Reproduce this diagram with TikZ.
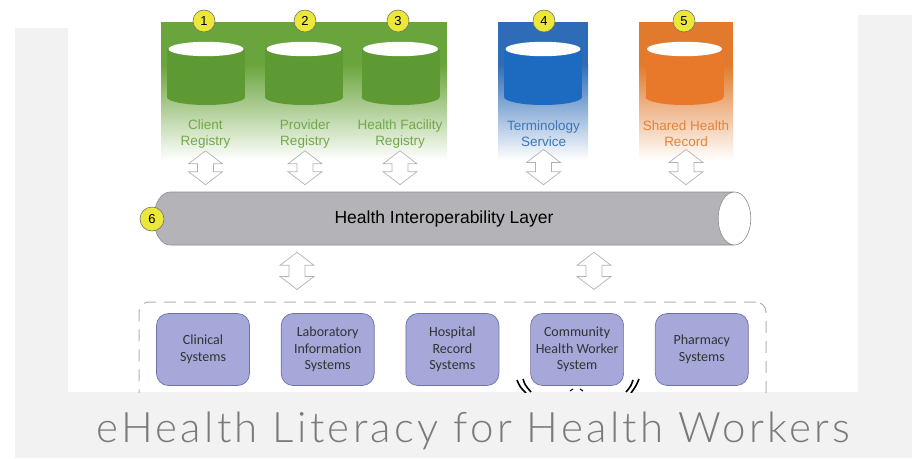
\documentclass[tikz,border=0pt]{standalone}
\usepackage{fontspec}
\setmainfont{Liberation Sans}
\newfontfamily\boxfont{Carlito}
\newfontfamily\titlefont{Lato Light}[LetterSpace=8]
\usepackage{tikz}
\usetikzlibrary{shapes.geometric,calc,positioning}
\usepackage{xcolor}

\definecolor{slidegray}{HTML}{F2F2F2}
\definecolor{regreen}{HTML}{6AA43C}
\definecolor{cylgreen}{HTML}{5E9A33}
\definecolor{txtgreen}{HTML}{72A84A}
\definecolor{termblue}{HTML}{2F6CB8}
\definecolor{cylblue}{HTML}{1D6BC1}
\definecolor{txtblue}{HTML}{3E76B6}
\definecolor{shrorange}{HTML}{E17A2C}
\definecolor{cylorange}{HTML}{E8792A}
\definecolor{txtorange}{HTML}{E4833C}
\definecolor{badgeyellow}{HTML}{ECE83A}
\definecolor{tubegray}{HTML}{B4B4B8}
\definecolor{sysblue}{HTML}{A5A8D8}
\definecolor{sysedge}{HTML}{6E71A8}

\tikzset{
  badge/.style={circle, fill=badgeyellow, draw=black!55, line width=0.6pt, minimum size=22pt, inner sep=0pt, font=\fontsize{13}{13}\selectfont},
  reglabel/.style={align=center, font=\fontsize{13.5}{16}\selectfont},
  sysbox/.style={rectangle, rounded corners=12pt, draw=sysedge, fill=sysblue, line width=0.7pt, minimum width=93pt, minimum height=72pt, align=center, text=black!80, font=\boxfont\fontsize{14}{16.5}\selectfont},
  harrow/.style={draw=black!30, fill=white, line width=0.7pt},
}

% hollow double arrow from #1 down to #2
\newcommand{\hollowarrow}[2]{%
  \draw[harrow] let \p1=(#1), \p2=(#2) in
    (\x1,\y1) -- (\x1+17pt,\y1-13pt) -- (\x1+8pt,\y1-13pt) -- (\x1+8pt,\y2+13pt) -- (\x1+17pt,\y2+13pt)
    -- (\x1,\y2) -- (\x1-17pt,\y2+13pt) -- (\x1-8pt,\y2+13pt) -- (\x1-8pt,\y1-13pt) -- (\x1-17pt,\y1-13pt) -- cycle;}

% database drum, #1 = centre of the top face, #2 = colour
\newcommand{\dbdrum}[2]{%
  \fill[#2] ($(#1)+(-39,0)$) rectangle ($(#1)+(39,48)$);
  \fill[#2] ($(#1)+(0,48)$) ellipse (39 and 8);
  \fill[white] (#1) ellipse (37.5 and 7.2);}

\begin{document}
\begin{tikzpicture}[x=1pt, y=-1pt]

\useasboundingbox (0,0) rectangle (912,458);
\fill[white] (0,0) rectangle (912,458);
\fill[slidegray] (15,28) rectangle (912,458);
\fill[slidegray] (858,15) rectangle (912,28);
\fill[white] (68,0) rectangle (858,392);

% registries
\fill[regreen] (161,22) rectangle (447,64);
\shade[top color=regreen, bottom color=white] (161,64) rectangle (447,160);
\fill[termblue] (498,22) rectangle (588,64);
\shade[top color=termblue, bottom color=white] (498,64) rectangle (588,160);
\fill[shrorange] (639,22) rectangle (733,64);
\shade[top color=shrorange, bottom color=white] (639,64) rectangle (733,160);

\coordinate (dcr) at (206,49);
\coordinate (dpr) at (304,49);
\coordinate (dhf) at (400.5,49);
\coordinate (dts) at (543,49);
\coordinate (dshr) at (684.5,49);
\dbdrum{dcr}{cylgreen}
\dbdrum{dpr}{cylgreen}
\dbdrum{dhf}{cylgreen}
\dbdrum{dts}{cylblue}
\dbdrum{dshr}{cylorange}

\node[badge] (b1) at (204,21) {1};
\node[badge] (b2) at (305,21) {2};
\node[badge] (b3) at (398,21) {3};
\node[badge] (b4) at (544,21) {4};
\node[badge] (b5) at (684,21) {5};

\node[reglabel, text=txtgreen] (lcr) at (205.5,134) {Client\\Registry};
\node[reglabel, text=txtgreen] (lpr) at (305,134) {Provider\\Registry};
\node[reglabel, text=txtgreen] (lhf) at (400,134) {Health Facility\\Registry};
\node[reglabel, text=txtblue] (lts) at (543.5,134) {Terminology\\Service};
\node[reglabel, text=txtorange] (lshr) at (686,134) {Shared Health\\Record};

% interoperability layer
\node[cylinder, draw=black!45, line width=0.6pt, cylinder uses custom fill, cylinder body fill=tubegray, cylinder end fill=white,
  minimum width=53pt, minimum height=597pt, aspect=2, inner sep=0pt, font=\fontsize{17.5}{19}\selectfont] (hil) at (444,218.5) {Health Interoperability Layer};
\node[badge, minimum size=24pt] (b6) at (152,219) {6};

\hollowarrow{$(lcr.south)+(0,-1)$}{$(lcr.south |- hil.north)+(0,-7)$}
\hollowarrow{$(lpr.south)+(0,-1)$}{$(lpr.south |- hil.north)+(0,-7)$}
\hollowarrow{$(lhf.south)+(0,-1)$}{$(lhf.south |- hil.north)+(0,-7)$}
\hollowarrow{$(lts.south)+(0,-1)$}{$(lts.south |- hil.north)+(0,-7)$}
\hollowarrow{$(lshr.south)+(0,-1)$}{$(lshr.south |- hil.north)+(0,-7)$}

% point of service systems
\begin{scope}
\clip (68,0) rectangle (858,392);
\node[draw=black!30, dashed, dash pattern=on 12pt off 8pt, line width=1pt, rounded corners=10pt, minimum width=627pt, minimum height=100pt] (pos) at (452.5,352) {};
\draw[line width=1.6pt] (517,380) .. controls (520,387) .. (526,393);
\draw[line width=1.6pt] (523,379) .. controls (525,385) .. (531,392);
\draw[line width=1.6pt] (639,379) .. controls (636,386) .. (631,393);
\draw[line width=1.6pt] (633,380) .. controls (631,386) .. (626,392);
\draw[line width=1pt] (570,391) -- (573,389);
\draw[line width=1pt] (580,389) -- (583,391);
\end{scope}

\coordinate (xa) at (297,0);
\coordinate (xb) at (594,0);
\hollowarrow{$(hil.south -| xa)+(0,7)$}{$(xa |- pos.north)+(0,-12)$}
\hollowarrow{$(hil.south -| xb)+(0,7)$}{$(xb |- pos.north)+(0,-12)$}

\node[sysbox] (cs) at (203,349.5) {Clinical\\Systems};
\node[sysbox, right=31pt of cs] (lis) {Laboratory\\Information\\Systems};
\node[sysbox, right=31pt of lis] (hrs) {Hospital\\Record\\Systems};
\node[sysbox, right=31pt of hrs] (chw) {Community\\Health Worker\\System};
\node[sysbox, right=31pt of chw] (ps) {Pharmacy\\Systems};

\node[anchor=base, text=black!52, font=\titlefont\fontsize{42}{42}\selectfont] (title) at (473.5,442) {eHealth Literacy for Health Workers};

\end{tikzpicture}
\end{document}
